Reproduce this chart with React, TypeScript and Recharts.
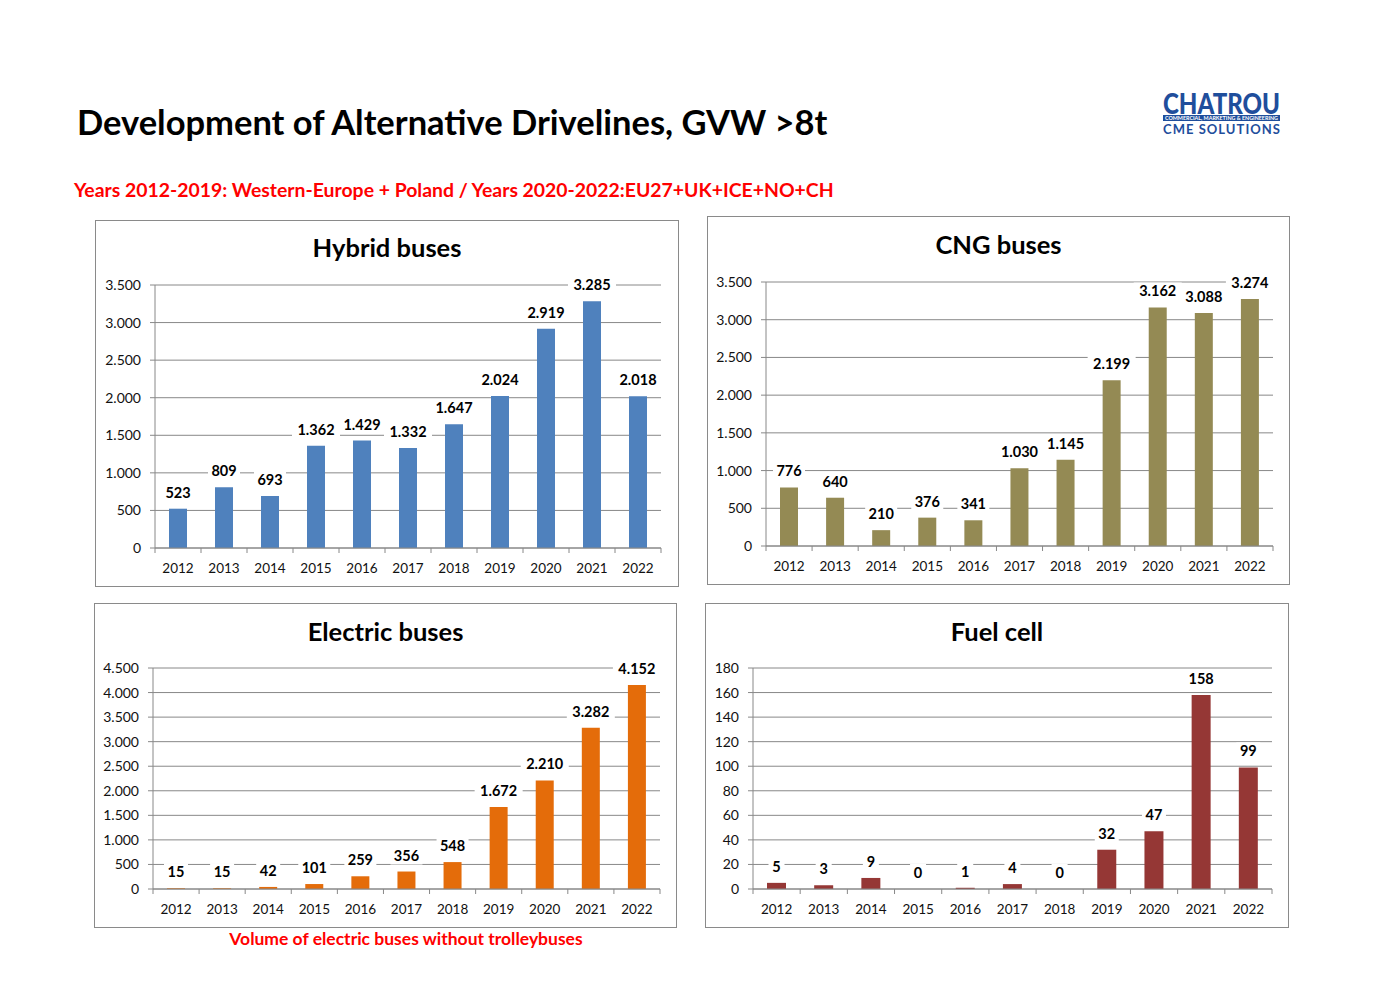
import React from "react";
import { BarChart, Bar, XAxis, YAxis, CartesianGrid, LabelList } from "recharts";

const years = ["2012", "2013", "2014", "2015", "2016", "2017", "2018", "2019", "2020", "2021", "2022"];

const hybridBuses = [523, 809, 693, 1362, 1429, 1332, 1647, 2024, 2919, 3285, 2018];
const cngBuses = [776, 640, 210, 376, 341, 1030, 1145, 2199, 3162, 3088, 3274];
const electricBuses = [15, 15, 42, 101, 259, 356, 548, 1672, 2210, 3282, 4152];
const fuelCell = [5, 3, 9, 0, 1, 4, 0, 32, 47, 158, 99];

const ticks3500 = [0, 500, 1000, 1500, 2000, 2500, 3000, 3500];
const ticks4500 = [0, 500, 1000, 1500, 2000, 2500, 3000, 3500, 4000, 4500];
const ticks180 = [0, 20, 40, 60, 80, 100, 120, 140, 160, 180];

const FONT = "Lato, 'Open Sans', sans-serif";
const GRID = "#888888";

// 1.362 style thousands separator
function fmt(v: number) {
  return String(v).replace(/\B(?=(\d{3})+(?!\d))/g, ".");
}

type PanelProps = {
  left: number;
  top: number;
  width: number;
  height: number;
  title: string;
  titleTop: number;
  values: number[];
  ticks: number[];
  color: string;
  plotLeft: number;
  plotTop: number;
  plotBottom: number;
  plotRight: number;
  barSize: number;
};

function Panel(p: PanelProps) {
  const data = years.map((year, i) => ({ year, value: p.values[i] }));
  const yAxisW = 50;
  const xAxisH = 30;
  const margin = {
    left: p.plotLeft - yAxisW,
    top: p.plotTop,
    right: p.width - p.plotRight,
    bottom: p.height - p.plotBottom - xAxisH,
  };
  const step = (p.plotRight - p.plotLeft) / years.length;

  const XTick = (props: any) => {
    const { x, y, payload, index } = props;
    const last = index === years.length - 1 || payload.value === years[years.length - 1];
    return (
      <g>
        <line x1={x - step / 2} y1={y} x2={x - step / 2} y2={y + 5} stroke={GRID} />
        {last && <line x1={x + step / 2} y1={y} x2={x + step / 2} y2={y + 5} stroke={GRID} />}
        <text x={x} y={y + 25} textAnchor="middle" fontSize={13.5} fill="#111" fontFamily={FONT}>
          {payload.value}
        </text>
      </g>
    );
  };

  const renderLabel = (props: any) => {
    const { x, y, width, value } = props;
    const cx = x + width / 2;
    const cy = y - 16;
    const txt = fmt(Number(value));
    const w = txt.length * 8 + 8;
    return (
      <g>
        <rect x={cx - w / 2} y={cy - 9} width={w} height={18} fill="#ffffff" />
        <text
          x={cx}
          y={cy + 5}
          textAnchor="middle"
          fontSize={14.5}
          fontWeight={700}
          fill="#000"
          fontFamily={FONT}
        >
          {txt}
        </text>
      </g>
    );
  };

  return (
    <div
      style={{
        position: "absolute",
        left: p.left,
        top: p.top,
        width: p.width,
        height: p.height,
        border: "1px solid #8a8a8a",
        boxSizing: "border-box",
        background: "#fff",
      }}
    >
      <div style={{ position: "absolute", left: -1, top: -1 }}>
        <BarChart width={p.width} height={p.height} data={data} margin={margin}>
          <CartesianGrid vertical={false} stroke={GRID} />
          <XAxis
            dataKey="year"
            height={xAxisH}
            interval={0}
            tickLine={false}
            tickSize={0}
            tickMargin={0}
            axisLine={{ stroke: GRID }}
            tick={<XTick />}
          />
          <YAxis
            type="number"
            width={yAxisW}
            domain={[0, p.ticks[p.ticks.length - 1]]}
            ticks={p.ticks}
            interval={0}
            tickFormatter={fmt}
            tickSize={5}
            tickMargin={9}
            axisLine={{ stroke: GRID }}
            tickLine={{ stroke: GRID }}
            tick={{ fill: "#111", fontSize: 14, fontFamily: FONT }}
          />
          <Bar
            dataKey="value"
            fill={p.color}
            barSize={p.barSize}
            minPointSize={0.01}
            isAnimationActive={false}
          >
            <LabelList dataKey="value" content={renderLabel} />
          </Bar>
        </BarChart>
      </div>
      <div
        style={{
          position: "absolute",
          left: 0,
          right: 0,
          top: p.titleTop,
          textAlign: "center",
          fontFamily: FONT,
          fontWeight: 700,
          fontSize: 25.5,
          lineHeight: 1,
          color: "#000",
        }}
      >
        {p.title}
      </div>
    </div>
  );
}

function Logo() {
  const blue = "#1f4e9c";
  return (
    <svg style={{ position: "absolute", left: 1160, top: 84, overflow: "visible" }} width={125} height={56}>
      <text x={3} y={30} fontSize={29} fontWeight={900} fill={blue} fontFamily={FONT} textLength={117} lengthAdjust="spacingAndGlyphs">
        CHATROU
      </text>
      <rect x={3} y={31} width={117} height={6} fill={blue} />
      <text x={5} y={36} fontSize={5} fontWeight={700} fill="#fff" fontFamily={FONT} textLength={113} lengthAdjust="spacingAndGlyphs">
        COMMERCIAL, MARKETING &amp; ENGINEERING
      </text>
      <text x={3} y={50} fontSize={13} fontWeight={700} fill={blue} fontFamily={FONT} textLength={117} lengthAdjust="spacing">
        CME SOLUTIONS
      </text>
    </svg>
  );
}

export default function App() {
  return (
    <div
      style={{
        position: "absolute",
        left: 0,
        top: 0,
        width: 1400,
        height: 990,
        background: "#fff",
        overflow: "hidden",
        fontFamily: FONT,
      }}
    >
      <div style={{ position: "absolute", left: 77, top: 105, fontSize: 34.5, fontWeight: 700, lineHeight: 1, color: "#000" }}>
        Development of Alternative Drivelines, GVW &gt;8t
      </div>
      <div style={{ position: "absolute", left: 74, top: 179.5, fontSize: 19.4, fontWeight: 700, lineHeight: 1, color: "#ff0000" }}>
        Years 2012-2019: Western-Europe + Poland / Years 2020-2022:EU27+UK+ICE+NO+CH
      </div>
      <Logo />

      <Panel
        left={95}
        top={220}
        width={584}
        height={367}
        title="Hybrid buses"
        titleTop={13.7}
        values={hybridBuses}
        ticks={ticks3500}
        color="#4f81bd"
        plotLeft={60}
        plotTop={65}
        plotBottom={328}
        plotRight={566}
        barSize={18}
      />
      <Panel
        left={707}
        top={216}
        width={583}
        height={369}
        title="CNG buses"
        titleTop={15.4}
        values={cngBuses}
        ticks={ticks3500}
        color="#948a54"
        plotLeft={59}
        plotTop={66}
        plotBottom={330}
        plotRight={566}
        barSize={18}
      />
      <Panel
        left={94}
        top={603}
        width={583}
        height={325}
        title="Electric buses"
        titleTop={14.9}
        values={electricBuses}
        ticks={ticks4500}
        color="#e46c0a"
        plotLeft={59}
        plotTop={65}
        plotBottom={286}
        plotRight={566}
        barSize={18}
      />
      <Panel
        left={705}
        top={603}
        width={584}
        height={325}
        title="Fuel cell"
        titleTop={14.9}
        values={fuelCell}
        ticks={ticks180}
        color="#953735"
        plotLeft={48}
        plotTop={65}
        plotBottom={286}
        plotRight={567}
        barSize={19}
      />

      <div
        style={{
          position: "absolute",
          left: 94,
          width: 624,
          top: 929.5,
          textAlign: "center",
          fontSize: 17.5,
          fontWeight: 700,
          lineHeight: 1,
          color: "#ff0000",
        }}
      >
        Volume of electric buses without trolleybuses
      </div>
    </div>
  );
}
